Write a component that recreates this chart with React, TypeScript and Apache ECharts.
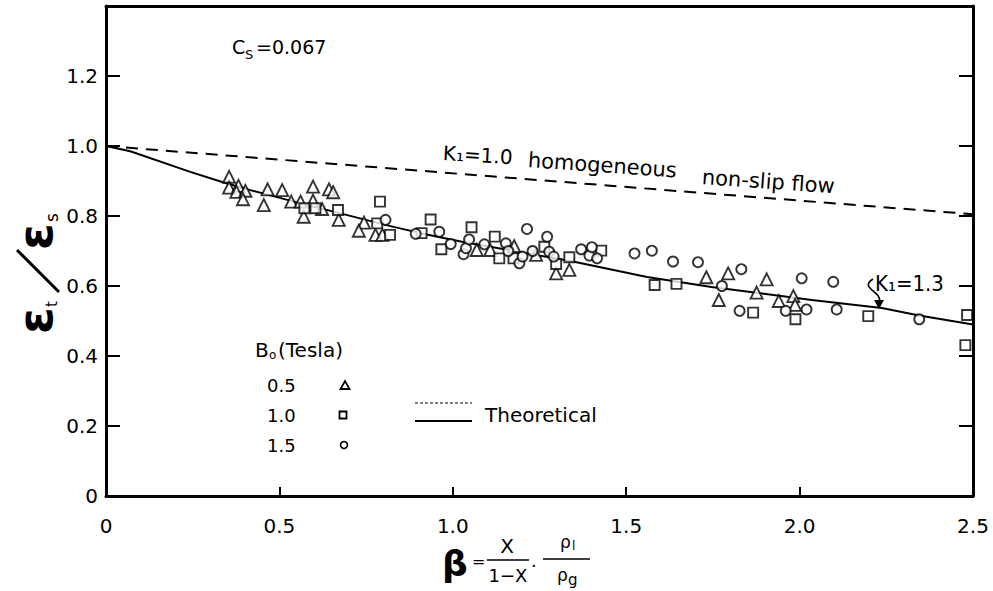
import React, { useEffect, useRef } from 'react';
import * as echarts from 'echarts';

// ---- data ----
const xTickLabels = ['0', '0.5', '1.0', '1.5', '2.0', '2.5'];
const yTickLabels = ['0', '0.2', '0.4', '0.6', '0.8', '1.0', '1.2', ''];

// K1 = 1.0 homogeneous non-slip flow (dashed)
const lineK10: number[][] = [[0, 1.0], [2.5, 0.805]];
// K1 = 1.3 (solid)
const lineK13: number[][] = [
  [0, 1.0], [0.07, 0.985], [0.243, 0.926], [0.335, 0.897], [0.416, 0.874], [0.523, 0.846],
  [0.82, 0.771], [0.907, 0.751], [1.03, 0.726], [1.35, 0.669], [1.56, 0.626], [1.746, 0.597],
  [2.035, 0.56], [2.237, 0.537], [2.345, 0.516], [2.5, 0.49],
];

// B0 = 0.5 Tesla (triangles)
const b05: number[][] = [
  [0.355, 0.912], [0.355, 0.881], [0.382, 0.886], [0.376, 0.869], [0.402, 0.872], [0.395, 0.848],
  [0.466, 0.876], [0.508, 0.874], [0.455, 0.831], [0.597, 0.884], [0.643, 0.876], [0.655, 0.868],
  [0.534, 0.841], [0.561, 0.841], [0.597, 0.844], [0.623, 0.82], [0.57, 0.798], [0.671, 0.789],
  [0.744, 0.781], [0.729, 0.758], [0.777, 0.746], [0.797, 0.746],
  [1.069, 0.703], [1.108, 0.703], [1.177, 0.714], [1.24, 0.689], [1.298, 0.636], [1.336, 0.646],
  [1.731, 0.625], [1.794, 0.636], [1.905, 0.619], [1.767, 0.56], [1.876, 0.581], [1.94, 0.557],
  [1.982, 0.571], [1.987, 0.546],
];
// B0 = 1.0 Tesla (squares)
const b10: number[][] = [
  [0.572, 0.822], [0.604, 0.822], [0.669, 0.817], [0.79, 0.841], [0.782, 0.779], [0.819, 0.746],
  [0.936, 0.79], [0.91, 0.751], [0.967, 0.705], [1.054, 0.768], [1.121, 0.741], [1.134, 0.679],
  [1.175, 0.679], [1.264, 0.712], [1.298, 0.663], [1.336, 0.682], [1.428, 0.701], [1.582, 0.603],
  [1.645, 0.606], [1.866, 0.524], [1.988, 0.505], [2.198, 0.514], [2.483, 0.517], [2.478, 0.431],
];
// B0 = 1.5 Tesla (circles)
const b15: number[][] = [
  [0.806, 0.789], [0.893, 0.749], [0.961, 0.755], [0.994, 0.72], [1.031, 0.691], [1.038, 0.708],
  [1.047, 0.733], [1.091, 0.719], [1.153, 0.722], [1.16, 0.7], [1.192, 0.665], [1.201, 0.684],
  [1.214, 0.763], [1.23, 0.7], [1.272, 0.741], [1.278, 0.698], [1.291, 0.684], [1.37, 0.705],
  [1.394, 0.687], [1.401, 0.711], [1.416, 0.679], [1.524, 0.693], [1.574, 0.701], [1.635, 0.67],
  [1.707, 0.668], [1.832, 0.648], [1.776, 0.6], [1.827, 0.529], [2.006, 0.622], [2.097, 0.612],
  [1.96, 0.529], [2.02, 0.533], [2.107, 0.533], [2.345, 0.505], [2.507, 0.474],
];

const legendValues = ['0.5', '1.0', '1.5'];

const FF = '"DejaVu Sans", "Liberation Sans", sans-serif';
const NARROW = '"Liberation Sans Narrow", "DejaVu Sans Condensed", "Liberation Sans", sans-serif';
const BLACK = '#000';

function txt(text: string, x: number, y: number, size: number, extra: any = {}, styleExtra: any = {}) {
  return {
    type: 'text', x, y, ...extra,
    style: {
      text, fill: BLACK, font: `${styleExtra.weight || 'normal'} ${size}px ${styleExtra.family || FF}`,
      textAlign: styleExtra.align || 'left', textVerticalAlign: 'middle',
      fontStyle: styleExtra.fontStyle || 'normal',
    },
  };
}

export default function App() {
  const ref = useRef<HTMLDivElement>(null);
  useEffect(() => {
    const chart = echarts.init(ref.current!, null, { renderer: 'svg' });
    const axisLine = { show: true, onZero: false, lineStyle: { color: BLACK, width: 3 } };
    const markerStyle = { color: '#fff', borderColor: BLACK, borderWidth: 1.9 };

    const legendRows = legendValues.map((v, i) => txt(v, 267, 385 + i * 30, 18));
    const graphic: any[] = [
      // Cs = 0.067
      txt('C', 232, 47, 19),
      txt('S', 245, 54, 13),
      txt('=0.067', 256, 47, 19),
      // K1 = 1.0 homogeneous non-slip flow
      txt('K₁=1.0', 443, 153, 20, { rotation: -0.06 }),
      txt('homogeneous', 528, 160, 21, { rotation: -0.07 }),
      txt('non-slip flow', 702, 177, 21, { rotation: -0.07 }),
      // K1 = 1.3 with arrow
      txt('K₁=1.3', 875, 283, 22, {}, { family: NARROW, fontStyle: 'italic' }),
      {
        type: 'bezierCurve',
        shape: { x1: 873, y1: 279, cpx1: 858, cpy1: 288, cpx2: 884, cpy2: 292, x2: 879, y2: 303 },
        style: { stroke: BLACK, lineWidth: 1.6, fill: null },
      },
      { type: 'polygon', shape: { points: [[874, 300], [884, 300], [879, 309]] }, style: { fill: BLACK } },
      // legend
      {
        type: 'group', children: [
          {
            type: 'text', x: 255, y: 350,
            style: { text: 'B', fill: BLACK, font: `20px ${FF}`, textVerticalAlign: 'middle' },
          },
          {
            type: 'text', x: 269, y: 355,
            style: { text: 'o', fill: BLACK, font: `12px ${FF}`, textVerticalAlign: 'middle' },
          },
          {
            type: 'text', x: 278, y: 350,
            style: { text: '(Tesla)', fill: BLACK, font: `20px ${FF}`, textVerticalAlign: 'middle' },
          },
        ],
      },
      ...legendRows,
      { type: 'polygon', shape: { points: [[345, 381], [349.5, 389], [340.5, 389]] }, style: { fill: '#fff', stroke: BLACK, lineWidth: 1.8 } },
      { type: 'rect', shape: { x: 339.5, y: 411.5, width: 7, height: 7 }, style: { fill: '#fff', stroke: BLACK, lineWidth: 1.8 } },
      { type: 'circle', shape: { cx: 344, cy: 445, r: 3.5 }, style: { fill: '#fff', stroke: BLACK, lineWidth: 1.6 } },
      { type: 'line', shape: { x1: 415, y1: 403, x2: 472, y2: 403 }, style: { stroke: BLACK, lineWidth: 1.2, lineDash: [3, 2] } },
      { type: 'line', shape: { x1: 415, y1: 421, x2: 472, y2: 421 }, style: { stroke: BLACK, lineWidth: 1.8 } },
      txt('Theoretical', 485, 415, 20),
      // y axis title (rotated)
      {
        type: 'group', x: 38, y: 270, rotation: Math.PI / 2,
        children: [
          { type: 'text', x: -64, y: -3, style: { text: 'ε', fill: BLACK, font: `bold 48px ${FF}`, textVerticalAlign: 'middle' } },
          { type: 'text', x: -37, y: 14, style: { text: 't', fill: BLACK, font: `15px ${FF}`, textVerticalAlign: 'middle' } },
          { type: 'line', shape: { x1: -22, y1: 21, x2: 20, y2: -21 }, style: { stroke: BLACK, lineWidth: 3 } },
          { type: 'text', x: 20, y: -3, style: { text: 'ε', fill: BLACK, font: `bold 48px ${FF}`, textVerticalAlign: 'middle' } },
          { type: 'text', x: 48, y: 14, style: { text: 's', fill: BLACK, font: `17px ${FF}`, textVerticalAlign: 'middle' } },
        ],
      },
      // x axis title
      txt('β', 442, 563, 36, {}, { weight: 'bold' }),
      txt('=', 472, 561, 16),
      txt('X', 507, 546, 20, {}, { align: 'center' }),
      { type: 'line', shape: { x1: 487, y1: 560, x2: 529, y2: 560 }, style: { stroke: BLACK, lineWidth: 1.5 } },
      txt('1−X', 508, 575, 18, {}, { align: 'center' }),
      txt('·', 531, 565, 18),
      txt('ρ', 560, 542, 17),
      txt('l', 572, 546, 12),
      { type: 'line', shape: { x1: 543, y1: 559, x2: 590, y2: 559 }, style: { stroke: BLACK, lineWidth: 1.5 } },
      txt('ρ', 557, 575, 17),
      txt('g', 568, 580, 15),
    ];

    const option: any = {
      animation: false,
      backgroundColor: '#fff',
      grid: { left: 106, right: 20, top: 6, bottom: 95, containLabel: false },
      xAxis: [
        {
          type: 'value', min: 0, max: 2.5, interval: 0.5, position: 'bottom',
          axisLine, splitLine: { show: false },
          axisTick: { show: true, inside: true, length: 9, lineStyle: { color: BLACK, width: 2 } },
          axisLabel: {
            margin: 20, color: BLACK, fontSize: 20, fontFamily: FF,
            formatter: (v: number) => xTickLabels[Math.round(v / 0.5)] ?? '',
          },
        },
        {
          type: 'value', min: 0, max: 2.5, position: 'top',
          axisLine, splitLine: { show: false }, axisTick: { show: false }, axisLabel: { show: false },
        },
      ],
      yAxis: [
        {
          type: 'value', min: 0, max: 1.4, interval: 0.2, position: 'left',
          axisLine, splitLine: { show: false },
          axisTick: { show: true, inside: true, length: 14, lineStyle: { color: BLACK, width: 2 } },
          axisLabel: {
            margin: 8, color: BLACK, fontSize: 20, fontFamily: FF,
            formatter: (v: number) => yTickLabels[Math.round(v / 0.2)] ?? '',
          },
        },
        {
          type: 'value', min: 0, max: 1.4, interval: 0.2, position: 'right',
          axisLine, splitLine: { show: false },
          axisTick: { show: true, inside: true, length: 14, lineStyle: { color: BLACK, width: 2 } },
          axisLabel: { show: false },
        },
      ],
      series: [
        {
          name: 'K1=1.0', type: 'line', data: lineK10, showSymbol: false, symbol: 'none',
          lineStyle: { color: BLACK, width: 2, type: [12, 8] }, z: 2,
        },
        {
          name: 'K1=1.3', type: 'line', data: lineK13, showSymbol: false, symbol: 'none',
          lineStyle: { color: BLACK, width: 2 }, z: 2,
        },
        { name: '0.5', type: 'scatter', data: b05, symbol: 'triangle', symbolSize: 12, itemStyle: markerStyle, z: 3 },
        { name: '1.0', type: 'scatter', data: b10, symbol: 'rect', symbolSize: 10, itemStyle: markerStyle, z: 3 },
        { name: '1.5', type: 'scatter', data: b15, symbol: 'circle', symbolSize: 10, itemStyle: markerStyle, z: 3 },
      ],
      graphic,
    };
    chart.setOption(option);
    return () => chart.dispose();
  }, []);
  return (
    <div
      ref={ref}
      style={{ position: 'fixed', left: 0, top: 0, width: 993, height: 591, background: '#fff' }}
    />
  );
}
